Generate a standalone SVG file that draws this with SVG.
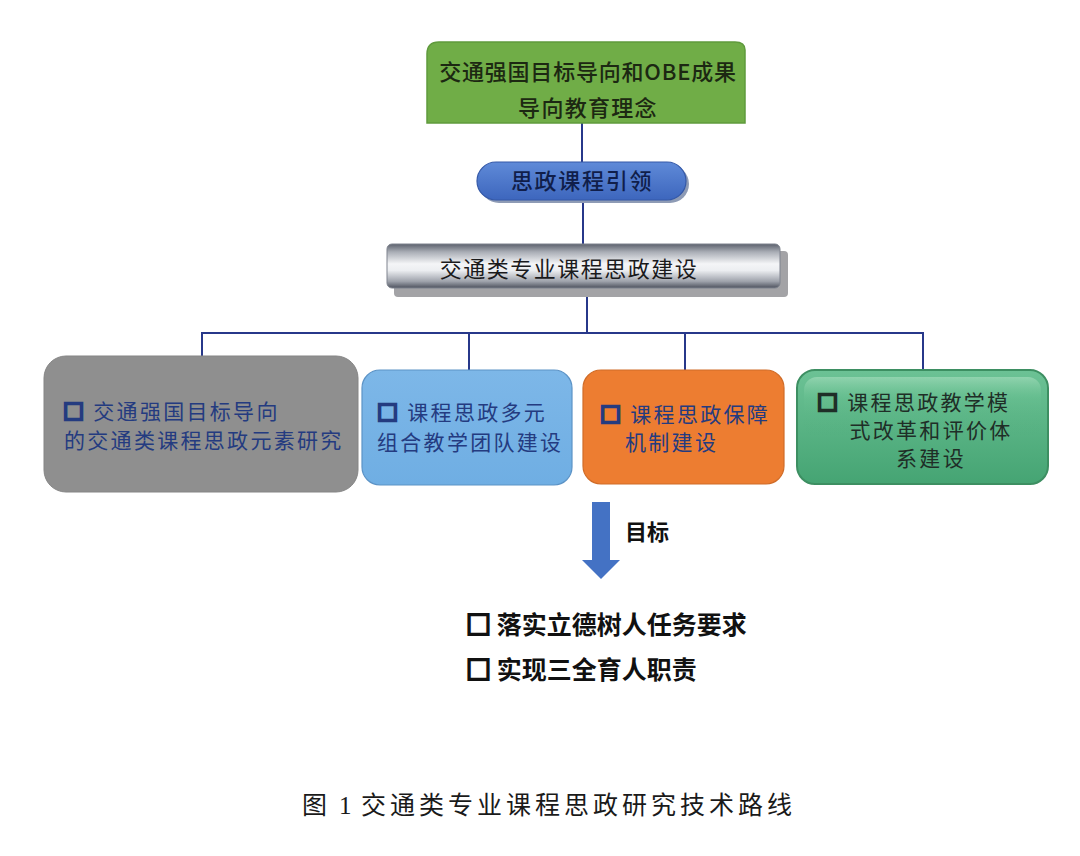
<svg xmlns="http://www.w3.org/2000/svg" width="1080" height="856" viewBox="0 0 1080 856">
<defs>
<linearGradient id="gPill" x1="0" y1="0" x2="0" y2="1">
<stop offset="0" stop-color="#5f8ad8"/>
<stop offset="1" stop-color="#3d66bd"/>
</linearGradient>
<linearGradient id="gBar" x1="0" y1="0" x2="0" y2="1">
<stop offset="0" stop-color="#5c616d"/>
<stop offset="0.18" stop-color="#a9adb5"/>
<stop offset="0.45" stop-color="#f4f5f7"/>
<stop offset="0.6" stop-color="#eceef1"/>
<stop offset="0.85" stop-color="#9ea2ab"/>
<stop offset="1" stop-color="#4d525e"/>
</linearGradient>
<linearGradient id="gGreen" x1="0" y1="0" x2="0" y2="1">
<stop offset="0" stop-color="#6cc295"/>
<stop offset="1" stop-color="#45a473"/>
</linearGradient>
<linearGradient id="gGreenHi" x1="0" y1="0" x2="0" y2="1">
<stop offset="0" stop-color="#9ad8b5" stop-opacity="0.8"/>
<stop offset="0.35" stop-color="#6cc394" stop-opacity="0.3"/>
<stop offset="1" stop-color="#4aa877" stop-opacity="0"/>
</linearGradient>
<linearGradient id="gBlueBox" x1="0" y1="0" x2="0" y2="1">
<stop offset="0" stop-color="#7db7e8"/>
<stop offset="1" stop-color="#6faee3"/>
</linearGradient>
</defs>
<style>
text { font-family: "Noto Sans CJK SC", "Noto Sans", sans-serif; }
.conn { stroke: #27388a; stroke-width: 2; fill: none; }
.t21 { font-size: 21px; letter-spacing: 2.3px; }
.navy { fill: #243b80; }
.bul { font-weight: bold; stroke-width: 2.6px; }
.goal { font-size: 25px; font-weight: bold; fill: #111; }
</style>
<rect width="1080" height="856" fill="#ffffff"/>

<g id="connectors">
<line class="conn" x1="582" y1="123" x2="582" y2="163"/>
<line class="conn" x1="583" y1="200" x2="583" y2="245"/>
<line class="conn" x1="587" y1="288" x2="587" y2="333"/>
<polyline class="conn" points="202,357 202,333 923,333 923,371"/>
<line class="conn" x1="469" y1="333" x2="469" y2="371"/>
<line class="conn" x1="685" y1="333" x2="685" y2="371"/>
</g>

<g id="node-top">
<path d="M427,123 L427,54 Q427,42 439,42 L735,42 Q745,42 745,50 L745,123 Z" fill="#70ad47" stroke="#5f9a3c" stroke-width="1.5"/>
<text x="588" y="80" text-anchor="middle" font-size="22" font-weight="500" letter-spacing="0.8" fill="#1c2812">交通强国目标导向和OBE成果</text>
<text x="588" y="116" text-anchor="middle" font-size="22" font-weight="500" letter-spacing="1.3" fill="#1c2812">导向教育理念</text>
</g>

<g id="node-pill">
<rect x="480" y="165" width="209" height="38" rx="19" fill="#8e9bb5"/>
<rect x="477" y="162" width="209" height="38" rx="19" fill="url(#gPill)" stroke="#3559a8" stroke-width="1.2"/>
<text x="582" y="189" text-anchor="middle" font-size="22" font-weight="500" letter-spacing="1.7" fill="#101e4a">思政课程引领</text>
</g>

<g id="node-bar">
<rect x="394" y="251" width="394" height="46" rx="4" fill="#a3a3a6"/>
<rect x="387" y="244" width="393" height="44" rx="5" fill="url(#gBar)" stroke="#7e838e" stroke-width="1"/>
<text x="569" y="277" text-anchor="middle" font-size="22" letter-spacing="1.5" fill="#1a1a1c">交通类专业课程思政建设</text>
</g>

<g id="node-gray">
<rect x="44" y="356" width="314" height="136" rx="22" fill="#8f8f8f" stroke="#858585" stroke-width="1"/>
<text class="t21 navy" x="63" y="419"><tspan class="bul" stroke="#243b80">□</tspan> 交通强国目标导向</text>
<text class="t21 navy" x="64" y="448">的交通类课程思政元素研究</text>
</g>

<g id="node-blue">
<rect x="362" y="370" width="210" height="115" rx="18" fill="url(#gBlueBox)" stroke="#5c93c6" stroke-width="1.2"/>
<text class="t21 navy" x="377" y="420"><tspan class="bul" stroke="#243b80">□</tspan> 课程思政多元</text>
<text class="t21 navy" x="377" y="450">组合教学团队建设</text>
</g>

<g id="node-orange">
<rect x="583" y="370" width="201" height="114" rx="18" fill="#ed7d31" stroke="#d06c28" stroke-width="1.2"/>
<text class="t21 navy" x="600" y="422"><tspan class="bul" stroke="#243b80">□</tspan> 课程思政保障</text>
<text class="t21 navy" x="625" y="450">机制建设</text>
</g>

<g id="node-green">
<rect x="797" y="370" width="251" height="114" rx="18" fill="url(#gGreen)" stroke="#3d8f62" stroke-width="2"/>
<rect x="804" y="377" width="237" height="60" rx="13" fill="url(#gGreenHi)"/>
<text class="t21" x="817" y="410" fill="#1f2e27"><tspan class="bul" stroke="#1f2e27">□</tspan> 课程思政教学模</text>
<text class="t21" x="931" y="438" text-anchor="middle" fill="#1f2e27">式改革和评价体</text>
<text class="t21" x="931" y="466" text-anchor="middle" fill="#1f2e27">系建设</text>
</g>

<g id="goal-arrow">
<polygon points="592,502 610,502 610,560 620,560 601,579 582,560 592,560" fill="#4472c4"/>
<text x="625" y="540" font-size="22" font-weight="bold" fill="#111">目标</text>
</g>

<g id="goals">
<text class="goal" x="466" y="634"><tspan stroke="#111" stroke-width="2.2">□</tspan> 落实立德树人任务要求</text>
<text class="goal" x="466" y="679"><tspan stroke="#111" stroke-width="2.2">□</tspan> 实现三全育人职责</text>
</g>

<g id="caption">
<text y="814" font-size="25" fill="#1a1a1a"><tspan x="302">图</tspan> <tspan x="339" font-family="Liberation Serif, serif">1</tspan> <tspan x="361" letter-spacing="4">交通类专业课程思政研究技术路线</tspan></text>
</g>
</svg>
